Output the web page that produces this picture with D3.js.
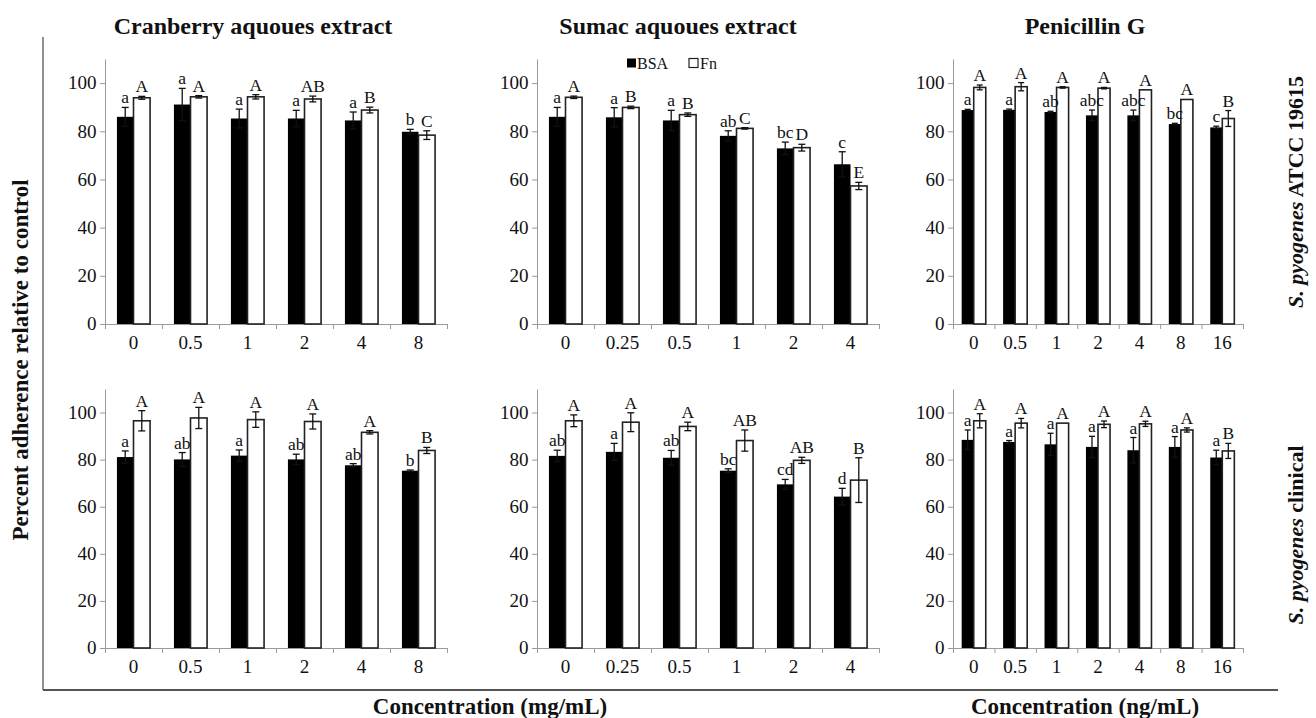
<!DOCTYPE html>
<html>
<head>
	<meta charset="utf-8">
	<title> adherence chart </title>
	<script src="https://d3js.org/d3.v7.min.js"></script>
	<style>
		body { margin: 0; background: #fff; }
		text { font-family: "Liberation Serif", "Times New Roman", serif; fill: #111; }
	</style>
</head>
<body>
	<svg id="chart"></svg>
	<script type="text/javascript">

		// categories (x tick labels)
		const cranCats = ["0", "0.5", "1", "2", "4", "8"];
		const sumacCats = ["0", "0.25", "0.5", "1", "2", "4"];
		const penCats = ["0", "0.5", "1", "2", "4", "8", "16"];

		// S. pyogenes ATCC 19615 (top row)
		const cranAtccBSA = [86.0, 91.1, 85.3, 85.3, 84.5, 79.8];
		const cranAtccBSAErr = [3.9, 6.7, 3.9, 3.4, 3.5, 1.0];
		const cranAtccFn = [93.9, 94.3, 94.3, 93.4, 88.8, 78.4];
		const cranAtccFnErr = [0.6, 0.5, 0.9, 1.2, 1.2, 1.8];
		const cranAtccBSALet = ["a", "a", "a", "a", "a", "b"];
		const cranAtccFnLet = ["A", "A", "A", "AB", "B", "C"];

		const sumacAtccBSA = [86.0, 85.8, 84.5, 78.1, 72.9, 66.3];
		const sumacAtccBSAErr = [3.9, 4.0, 4.2, 2.1, 2.6, 5.2];
		const sumacAtccFn = [94.1, 89.9, 86.9, 81.2, 73.2, 57.3];
		const sumacAtccFnErr = [0.5, 0.5, 0.7, 0.3, 1.4, 1.5];
		const sumacAtccBSALet = ["a", "a", "a", "ab", "bc", "c"];
		const sumacAtccFnLet = ["A", "B", "B", "C", "D", "E"];

		const penAtccBSA = [88.8, 88.9, 88.0, 86.6, 86.6, 83.0, 81.6];
		const penAtccBSAErr = [0.3, 0.3, 0.3, 2.2, 2.2, 0.3, 0.5];
		const penAtccFn = [98.2, 98.5, 98.2, 97.9, 97.2, 93.2, 85.3];
		const penAtccFnErr = [1.0, 1.7, 0.3, 0.3, 0, 0, 3.3];
		const penAtccBSALet = ["a", "a", "ab", "abc", "abc", "bc", "c"];
		const penAtccFnLet = ["A", "A", "A", "A", "A", "A", "B"];

		// S. pyogenes clinical (bottom row)
		const cranClinBSA = [81.1, 80.1, 81.7, 80.1, 77.6, 75.3];
		const cranClinBSAErr = [2.6, 2.9, 2.4, 2.2, 0.7, 0.3];
		const cranClinFn = [96.5, 97.7, 97.0, 96.2, 91.6, 83.9];
		const cranClinFnErr = [4.3, 4.5, 3.3, 3.2, 0.7, 1.3];
		const cranClinBSALet = ["a", "ab", "a", "ab", "ab", "b"];
		const cranClinFnLet = ["A", "A", "A", "A", "A", "B"];

		const sumacClinBSA = [81.6, 83.3, 80.8, 75.3, 69.5, 64.3];
		const sumacClinBSAErr = [2.4, 3.6, 3.1, 0.8, 2.1, 3.5];
		const sumacClinFn = [96.5, 95.9, 94.1, 88.1, 79.7, 71.3];
		const sumacClinFnErr = [2.5, 4.0, 1.8, 4.5, 1.3, 9.5];
		const sumacClinBSALet = ["ab", "a", "ab", "bc", "cd", "d"];
		const sumacClinFnLet = ["A", "A", "A", "AB", "AB", "B"];

		const penClinBSA = [88.4, 87.5, 86.5, 85.4, 84.0, 85.4, 80.9];
		const penClinBSAErr = [4.2, 0.6, 4.7, 4.5, 5.4, 4.4, 3.1];
		const penClinFn = [96.5, 95.5, 95.5, 95.0, 95.2, 92.6, 83.7];
		const penClinFnErr = [3.0, 2.0, 0, 1.4, 1.1, 0.9, 3.2];
		const penClinBSALet = ["a", "a", "a", "a", "a", "a", "a"];
		const penClinFnLet = ["A", "A", "A", "A", "A", "A", "B"];

		const panelTitles = ["Cranberry aquoues extract", "Sumac aquoues extract", "Penicillin G"];
		const yTicks = [0, 20, 40, 60, 80, 100];

		const w = 1316;
		const h = 718;
		const SX = 1.06; // small sideways stretch seen in the original figure

		const cols = [{x0: 105, x1: 447}, {x0: 537, x1: 879}, {x0: 953, x1: 1243}];
		const rows = [{y0: 324, y1: 59}, {y0: 648, y1: 389}];
		const titleX = [253, 678, 1085];

		const svg = d3.select("#chart").attr("width", w).attr("height", h);

		function label(x, y, s, size, anchor, bold, sx) {
			return svg.append("text")
				.attr("transform", "translate(" + x + "," + y + ") scale(" + (sx || SX) + ",1)")
				.attr("text-anchor", anchor || "middle")
				.style("font-size", size + "px")
				.style("font-weight", bold ? "bold" : "normal")
				.text(s);
		}

		const panels = [
			{cats: cranCats, col: 0, row: 0, bsa: cranAtccBSA, bsaErr: cranAtccBSAErr, fn: cranAtccFn, fnErr: cranAtccFnErr, bsaLet: cranAtccBSALet, fnLet: cranAtccFnLet},
			{cats: sumacCats, col: 1, row: 0, bsa: sumacAtccBSA, bsaErr: sumacAtccBSAErr, fn: sumacAtccFn, fnErr: sumacAtccFnErr, bsaLet: sumacAtccBSALet, fnLet: sumacAtccFnLet},
			{cats: penCats, col: 2, row: 0, bsa: penAtccBSA, bsaErr: penAtccBSAErr, fn: penAtccFn, fnErr: penAtccFnErr, bsaLet: penAtccBSALet, fnLet: penAtccFnLet},
			{cats: cranCats, col: 0, row: 1, bsa: cranClinBSA, bsaErr: cranClinBSAErr, fn: cranClinFn, fnErr: cranClinFnErr, bsaLet: cranClinBSALet, fnLet: cranClinFnLet},
			{cats: sumacCats, col: 1, row: 1, bsa: sumacClinBSA, bsaErr: sumacClinBSAErr, fn: sumacClinFn, fnErr: sumacClinFnErr, bsaLet: sumacClinBSALet, fnLet: sumacClinFnLet},
			{cats: penCats, col: 2, row: 1, bsa: penClinBSA, bsaErr: penClinBSAErr, fn: penClinFn, fnErr: penClinFnErr, bsaLet: penClinBSALet, fnLet: penClinFnLet}
		];

		function drawPanel(p) {
			const col = cols[p.col];
			const row = rows[p.row];
			const n = p.cats.length;

			const x = d3.scaleBand().domain(p.cats).range([col.x0, col.x1]);
			const sub = d3.scaleBand().domain(["BSA", "Fn"]).range([0, x.bandwidth()]).paddingOuter(0.72);
			const y = d3.scaleLinear().domain([0, 110]).range([row.y0, row.y1]);
			const edges = d3.scaleLinear().domain([0, n]).range([col.x0, col.x1]);

			// y axis
			const gy = svg.append("g").attr("transform", "translate(" + col.x0 + ",0)")
				.call(d3.axisLeft(y).tickValues(yTicks).tickSize(5).tickSizeOuter(0).tickPadding(3));
			gy.select(".domain").attr("stroke", "#9a9a9a");
			gy.selectAll(".tick line").attr("stroke", "#9a9a9a");
			gy.selectAll(".tick text")
				.attr("transform", "scale(" + SX + ",1)")
				.style("font-size", "18px")
				.style("font-family", "Liberation Serif")
				.attr("fill", "#111");

			// x axis: ticks between the categories
			const gxe = svg.append("g").attr("transform", "translate(0," + row.y0 + ")")
				.call(d3.axisBottom(edges).tickValues(d3.range(0, n + 1)).tickFormat("").tickSize(5).tickSizeOuter(0));
			gxe.select(".domain").attr("stroke", "#9a9a9a");
			gxe.selectAll(".tick line").attr("stroke", "#9a9a9a");

			const gx = svg.append("g").attr("transform", "translate(0," + row.y0 + ")")
				.call(d3.axisBottom(x).tickSize(0).tickPadding(12));
			gx.select(".domain").remove();
			gx.selectAll(".tick text")
				.attr("transform", "scale(" + SX + ",1)")
				.style("font-size", "18px")
				.style("font-family", "Liberation Serif")
				.attr("fill", "#111");

			const groups = p.cats.map(function(c, i) {
				return [
					{cat: c, key: "BSA", v: p.bsa[i], e: p.bsaErr[i], lab: p.bsaLet[i]},
					{cat: c, key: "Fn", v: p.fn[i], e: p.fnErr[i], lab: p.fnLet[i]}
				];
			}).flat();

			const cx = function(d) { return x(d.cat) + sub(d.key) + sub.bandwidth() / 2; };
			const cap = p.col == 2 ? 3 : 3.5;

			svg.append("g").selectAll("rect").data(groups).join("rect")
				.attr("x", function(d) { return x(d.cat) + sub(d.key); })
				.attr("y", function(d) { return y(d.v); })
				.attr("width", sub.bandwidth())
				.attr("height", function(d) { return y(0) - y(d.v); })
				.attr("fill", function(d) { return d.key == "BSA" ? "#000" : "#fff"; })
				.attr("stroke", function(d) { return d.key == "BSA" ? "none" : "#222"; })
				.attr("stroke-width", 1.6);

			const errs = svg.append("g").attr("stroke", "#111").attr("stroke-width", 1.3)
				.selectAll("g").data(groups.filter(function(d) { return d.e > 0; })).join("g");
			errs.append("line")
				.attr("x1", cx).attr("x2", cx)
				.attr("y1", function(d) { return y(d.v - d.e); })
				.attr("y2", function(d) { return y(d.v + d.e); });
			errs.append("line")
				.attr("x1", function(d) { return cx(d) - cap; }).attr("x2", function(d) { return cx(d) + cap; })
				.attr("y1", function(d) { return y(d.v + d.e); })
				.attr("y2", function(d) { return y(d.v + d.e); });
			errs.append("line")
				.attr("x1", function(d) { return cx(d) - cap; }).attr("x2", function(d) { return cx(d) + cap; })
				.attr("y1", function(d) { return y(d.v - d.e); })
				.attr("y2", function(d) { return y(d.v - d.e); });

			groups.forEach(function(d) {
				label(cx(d), y(d.v + d.e) - 4, d.lab, 16.5, "middle", false);
			});

			// panel title
			if (p.row == 0) {
				label(titleX[p.col], 34, panelTitles[p.col], 24, "middle", true, 1);
			}
		}

		panels.forEach(drawPanel);

		// legend in the middle top panel
		const legX = 627;
		const legY = 63;
		svg.append("rect").attr("x", legX).attr("y", legY - 4.5).attr("width", 9).attr("height", 9).attr("fill", "#000");
		label(legX + 10, legY + 5.5, "BSA", 16, "start", false, 1);
		svg.append("rect").attr("x", legX + 62).attr("y", legY - 4.5).attr("width", 9).attr("height", 9)
			.attr("fill", "#fff").attr("stroke", "#222").attr("stroke-width", 1.2);
		label(legX + 73, legY + 5.5, "Fn", 16, "start", false, 1);

		// frame lines
		svg.append("line").attr("x1", 43).attr("x2", 43).attr("y1", 37).attr("y2", 690)
			.attr("stroke", "#555").attr("stroke-width", 1.3);
		svg.append("line").attr("x1", 43).attr("x2", 1278).attr("y1", 690).attr("y2", 690)
			.attr("stroke", "#555").attr("stroke-width", 2);

		// y axis title
		svg.append("text")
			.attr("transform", "translate(28,360) rotate(-90)")
			.attr("text-anchor", "middle")
			.style("font-size", "23px").style("font-weight", "bold")
			.text("Percent adherence relative to control");

		// bottom titles
		label(490, 714, "Concentration (mg/mL)", 23, "middle", true, 1);
		label(1085, 714, "Concentration (ng/mL)", 23, "middle", true, 1);

		// row labels on the right
		const rowLabels = [["S. pyogenes", " ATCC 19615", 192], ["S. pyogenes", " clinical", 535]];
		rowLabels.forEach(function(r) {
			const t = svg.append("text")
				.attr("transform", "translate(1303," + r[2] + ") rotate(-90)")
				.attr("text-anchor", "middle")
				.style("font-size", "22px").style("font-weight", "bold");
			t.append("tspan").style("font-style", "italic").text(r[0]);
			t.append("tspan").text(r[1]);
		});

	</script>
</body>
</html>
